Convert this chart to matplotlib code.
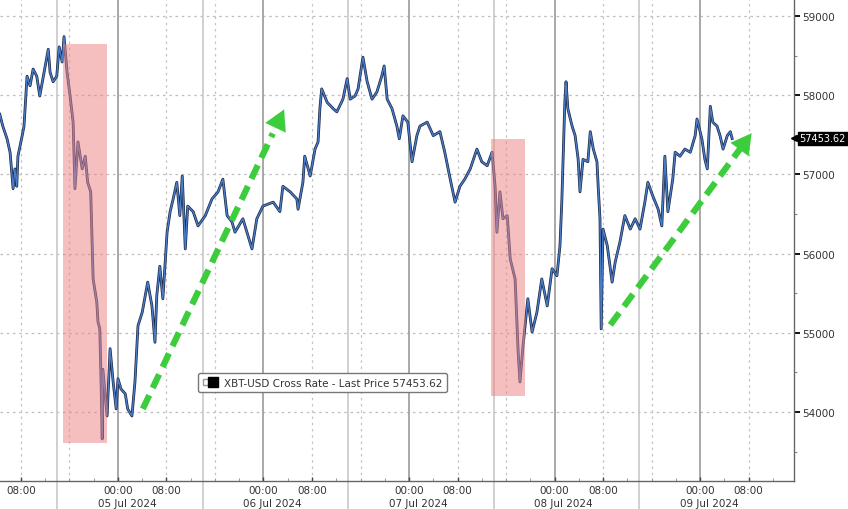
import matplotlib
matplotlib.use('Agg')

import numpy as np
import pandas as pd
import matplotlib.pyplot as plt
import matplotlib.dates as mdates
from matplotlib.lines import Line2D
from matplotlib.legend_handler import HandlerTuple
from matplotlib.patches import Rectangle

# hours from 05 Jul 2024 00:00, XBT-USD last price
hours = [-19.5, -19.0, -18.3, -17.8, -17.3, -17.0, -16.7, -16.5, -15.8, -15.5,
         -15.2, -15.0, -14.5, -14.0, -13.4, -12.9, -12.4, -11.5, -11.2, -10.7,
         -10.1, -9.7, -9.2, -8.9, -8.4, -7.9, -7.4, -7.1, -6.6, -5.9,
         -5.4, -5.0, -4.5, -4.1, -3.5, -3.3, -3.0, -2.8, -2.6, -2.5,
         -1.8, -1.3, -0.8, -0.3, 0.0, 0.5, 1.2, 1.6, 2.3, 2.8,
         3.3, 4.0, 4.5, 4.9, 5.6, 6.1, 6.4, 6.9, 7.4, 8.1,
         8.6, 9.1, 9.7, 10.2, 10.6, 11.1, 11.5, 12.4, 13.2, 14.4,
         15.5, 16.5, 17.3, 18.0, 18.8, 19.3, 20.6, 22.1, 22.9, 23.9,
         25.6, 26.7, 27.2, 28.4, 29.5, 29.7, 30.5, 30.8, 31.7, 32.5,
         33.0, 33.3, 33.6, 34.5, 35.5, 36.1, 37.1, 37.8, 38.3, 39.1,
         39.6, 40.4, 41.1, 41.9, 42.7, 43.5, 43.9, 44.4, 45.2, 46.0,
         46.4, 47.0, 47.8, 48.5, 49.3, 49.8, 51.0, 52.0, 53.1, 53.9,
         54.8, 55.6, 56.4, 57.2, 58.1, 59.2, 60.0, 60.9, 61.7, 62.2,
         62.5, 63.0, 63.5, 64.2, 64.7, 65.5, 66.0, 66.3, 66.8, 67.6,
         68.3, 69.1, 69.9, 70.8, 71.6, 72.4, 72.9, 73.2, 73.7, 73.9,
         74.2, 74.9, 75.4, 75.9, 76.2, 76.7, 77.5, 77.9, 78.4, 79.0,
         79.2, 79.5, 79.7, 80.0, 80.7, 81.5, 82.0, 82.8, 83.6, 84.5,
         85.3, 86.1, 86.9, 87.4, 88.2, 89.1, 89.7, 90.2, 90.7, 91.5,
         91.9, 92.7, 93.5, 94.4, 95.2, 95.5, 96.3, 96.8, 97.2, 97.7,
         98.1, 98.8, 99.3, 99.8, 100.5, 101.0, 101.3]
prices = [57760, 57610, 57450, 57280, 56820, 57070, 56850, 57230, 57490, 57610,
          57990, 58240, 58120, 58330, 58240, 57990, 58200, 58580, 58290, 58170,
          58240, 58610, 58420, 58740, 58290, 57990, 57660, 56820, 57410, 57070,
          57230, 56900, 56780, 55680, 55390, 55140, 55050, 54420, 53660, 54540,
          53950, 54800, 54380, 54040, 54420, 54290, 54230, 54040, 53950, 54380,
          55090, 55260, 55470, 55640, 55340, 54880, 55470, 55840, 55430, 56270,
          56530, 56690, 56900, 56480, 56980, 56060, 56600, 56530, 56350, 56480,
          56690, 56780, 56940, 56480, 56400, 56270, 56440, 56060, 56440, 56600,
          56650, 56530, 56850, 56780, 56690, 56560, 56900, 57230, 56980, 57320,
          57410, 57830, 58080, 57910, 57830, 57790, 57950, 58210, 57950, 57990,
          58080, 58480, 58170, 57950, 58040, 58240, 58370, 57950, 57830, 57610,
          57450, 57740, 57660, 57160, 57490, 57610, 57660, 57490, 57540, 57280,
          56940, 56650, 56850, 56940, 57070, 57320, 57160, 57110, 57280, 56850,
          56270, 56780, 56440, 56480, 55930, 55680, 54760, 54380, 54830, 55430,
          55010, 55260, 55680, 55340, 55810, 55720, 56100, 56650, 57910, 58170,
          57830, 57610, 57490, 57190, 56780, 57190, 57160, 57540, 57320, 57160,
          56850, 56440, 55050, 56310, 56100, 55640, 55890, 56150, 56480, 56310,
          56440, 56310, 56650, 56900, 56730, 56560, 56350, 57230, 56530, 56940,
          57280, 57230, 57320, 57280, 57490, 57700, 57450, 57190, 57070, 57860,
          57660, 57610, 57490, 57320, 57490, 57540, 57453.62]
last_price = 57453.62

# shaded sell-off windows: (start h, end h, low, high)
shade_boxes = [(-9.1, -1.8, 53610, 58650), (61.5, 67.1, 54200, 57450)]
# green trend arrows: (start h, start price, tip h, tip price)
trend_arrows = [(4.1, 54040, 27.4, 57820), (81.2, 55100, 104.5, 57520)]

day_labels = ['05 Jul 2024', '06 Jul 2024', '07 Jul 2024', '08 Jul 2024', '09 Jul 2024']
y_ticks = [54000, 55000, 56000, 57000, 58000, 59000]

base = pd.Timestamp('2024-07-05 00:00')
def to_t(h):
    return base + pd.Timedelta(hours=h)

times = [to_t(h) for h in hours]

fig = plt.figure(figsize=(8.48, 5.10), dpi=100)
ax = fig.add_axes([0, 28 / 510, 794 / 848, 482 / 510])

x0, x1 = to_t(-19.46), to_t(111.5)
ax.set_xlim(x0, x1)
ax.set_ylim(53129, 59215)

# grid
for y in y_ticks:
    ax.axhline(y, color='#bdbdbd', lw=0.9, ls=(0, (2, 3)), zorder=1)
for d in range(-1, 5):
    day = base + pd.Timedelta(days=d)
    ax.axvline(day, color='#9a9a9a', lw=1.2, zorder=1)
    ax.axvline(day + pd.Timedelta(hours=8), color='#c4c4c4', lw=0.9, ls=(0, (2, 3)), zorder=1)
    if d < 4:
        ax.axvline(day + pd.Timedelta(hours=16), color='#c4c4c4', lw=0.9, ls=(0, (2, 3)), zorder=1)
        sep = day + pd.Timedelta(hours=14)
        ax.plot([sep, sep], [-0.06, 1], transform=ax.get_xaxis_transform(),
                color='#c8c8c8', lw=1.2, clip_on=False, zorder=1)

# price line
ax.plot(times, prices, color='#1a2744', lw=2.0, zorder=3, solid_joinstyle='round')
ax.plot(times, prices, color='#4a7cc8', lw=1.0, zorder=4, solid_joinstyle='round')

# shaded windows
for h0, h1, lo, hi in shade_boxes:
    t0 = mdates.date2num(to_t(h0))
    t1 = mdates.date2num(to_t(h1))
    ax.add_patch(Rectangle((t0, lo), t1 - t0, hi - lo, facecolor='#ee8080',
                           alpha=0.5, edgecolor='none', zorder=5))

# green arrows
for h0, p0, h1, p1 in trend_arrows:
    ta, tb = mdates.date2num(to_t(h0)), mdates.date2num(to_t(h1))
    frac = 0.92
    tm = ta + (tb - ta) * frac
    pm = p0 + (p1 - p0) * frac
    ax.plot([ta, tm], [p0, pm], color='#3ccc3c', lw=4.5, ls=(0, (2.4, 1.3)),
            solid_capstyle='butt', dash_capstyle='butt', zorder=6)
    ax.annotate('', xy=(tb, p1), xytext=(ta + (tb - ta) * 0.88, p0 + (p1 - p0) * 0.88),
                arrowprops=dict(arrowstyle='-|>,head_length=0.8,head_width=0.45',
                                color='#3ccc3c', lw=0.1, shrinkA=0, shrinkB=0,
                                mutation_scale=18),
                zorder=6)

# spines
for s in ['left', 'top']:
    ax.spines[s].set_visible(False)
ax.spines['right'].set_color('#666666')
ax.spines['bottom'].set_color('#666666')
ax.spines['right'].set_linewidth(1.0)
ax.spines['bottom'].set_linewidth(1.0)

# y axis on the right
ax.yaxis.tick_right()
ax.set_yticks(y_ticks)
ax.set_yticklabels([str(v) for v in y_ticks])
ax.set_yticks([v + 500 for v in y_ticks[:-1]] + [53500], minor=True)
ax.tick_params(axis='y', which='major', direction='out', length=4, width=1.4,
               color='#111111', labelsize=7.5, labelcolor='#333333', pad=2)
ax.tick_params(axis='y', which='minor', direction='out', length=2, width=0.8, color='#888888')

# x axis
xt, xl = [], []
for d in range(-1, 5):
    day = base + pd.Timedelta(days=d)
    if d >= 0:
        xt.append(day)
        xl.append('00:00')
    xt.append(day + pd.Timedelta(hours=8))
    xl.append('08:00')
ax.set_xticks(xt)
ax.set_xticklabels(xl)
ax.xaxis.set_minor_locator(mdates.HourLocator(byhour=[0, 4, 8, 12, 16, 20]))
ax.tick_params(axis='x', which='major', direction='in', length=3, width=1.0,
               color='#444444', labelsize=7.5, labelcolor='#333333', pad=3)
ax.tick_params(axis='x', which='minor', direction='in', length=2, width=0.7, color='#999999')

for i, lab in enumerate(day_labels):
    ax.text(to_t(24 * i + 1.5), -0.046, lab, transform=ax.get_xaxis_transform(),
            ha='center', va='center', fontsize=7.5, color='#333333')

# last price tag
ax.plot([1.0], [last_price], marker='<', color='black', markersize=5,
        transform=ax.get_yaxis_transform(), clip_on=False, zorder=7)
ax.annotate(f'{last_price:.2f}', xy=(1.0, last_price),
            xycoords=('axes fraction', 'data'), xytext=(4, 0), textcoords='offset points',
            ha='left', va='center', fontsize=7, color='white',
            bbox=dict(boxstyle='square,pad=0.2', fc='black', ec='black'),
            annotation_clip=False)

# legend
h_icon = Line2D([], [], marker='s', color='#999999', markerfacecolor='white',
                markersize=4, linestyle='none')
h_sq = Line2D([], [], marker='s', color='black', markersize=7, linestyle='none')
leg = ax.legend([(h_icon, h_sq)], [f'XBT-USD Cross Rate - Last Price {last_price:.2f}'],
                handler_map={tuple: HandlerTuple(ndivide=None, pad=0.1)},
                loc='center', bbox_to_anchor=(0.406, 0.204), fontsize=7.5,
                frameon=True, fancybox=True, framealpha=1, edgecolor='#777777',
                handlelength=1.3, handletextpad=0.7, borderpad=0.45)
leg.get_frame().set_linewidth(1.0)
for t in leg.get_texts():
    t.set_color('#333333')
leg.set_zorder(8)

fig.savefig('out.png', dpi=100)
